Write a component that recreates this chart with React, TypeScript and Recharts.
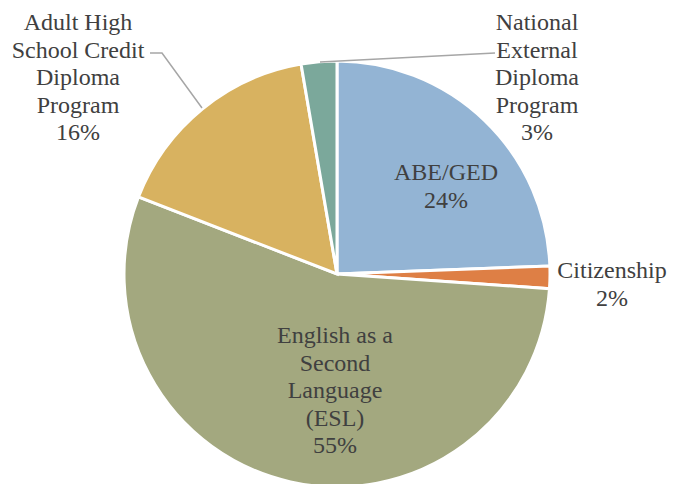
import React from 'react';
import { PieChart, Pie, Cell } from 'recharts';

const categories = [
  'ABE/GED',
  'Citizenship',
  'English as a Second Language (ESL)',
  'Adult High School Credit Diploma Program',
  'National External Diploma Program',
];
const shares = [24.4, 1.7, 54.8, 16.4, 2.7];
const labelTexts = [
  ['ABE/GED'],
  ['Citizenship'],
  ['English as a', 'Second', 'Language', '(ESL)'],
  ['Adult High', 'School Credit', 'Diploma', 'Program'],
  ['National', 'External', 'Diploma', 'Program'],
];
const colors = ['#93B4D4', '#DE7F45', '#A3A87F', '#D8B260', '#7BA89B'];

const CX = 337;
const CY = 274;
const R = 213;

// label layout: offset of label block (first line centre) from pie centre
const labelPos = [
  { dx: 109, dy: -102 },
  { dx: 275, dy: -4 },
  { dx: -2, dy: 61 },
  { dx: -259, dy: -252 },
  { dx: 200, dy: -252 },
];
// leader lines, offsets from pie centre
const leaders: Record<number, number[][]> = {
  3: [[-135, -166], [-175, -221], [-187, -221]],
  4: [[-17, -212], [158, -221]],
};

const total = shares.reduce((a, b) => a + b, 0);
const data = categories.map((name, i) => ({ name, value: shares[i] }));

const LINE_H = 27.6;
const FONT = 'Times New Roman';

function Labels() {
  return (
    <svg
      width={683}
      height={484}
      style={{ position: 'absolute', left: 0, top: 0, pointerEvents: 'none' }}
    >
      {categories.map((name, index) => {
        const pos = labelPos[index];
        const lines = [...labelTexts[index], `${Math.round((shares[index] / total) * 100)}%`];
        const x = CX + pos.dx;
        const y0 = CY + pos.dy;
        const leader = leaders[index];
        return (
          <g key={name}>
            {leader && (
              <polyline
                points={leader.map(([a, b]) => `${CX + a},${CY + b}`).join(' ')}
                fill="none"
                stroke="#A6A6A6"
                strokeWidth={1.5}
              />
            )}
            {lines.map((l, i) => (
              <text
                key={i}
                x={x}
                y={y0 + i * LINE_H + 8}
                textAnchor="middle"
                fill="#404040"
                fontFamily={FONT}
                fontSize={24}
              >
                {l}
              </text>
            ))}
          </g>
        );
      })}
    </svg>
  );
}

export default function App() {
  return (
    <div style={{ position: 'absolute', left: 0, top: 0, width: 683, height: 484, background: '#fff' }}>
      <PieChart width={683} height={484} margin={{ top: 0, right: 0, bottom: 0, left: 0 }}>
        <Pie
          data={data}
          dataKey="value"
          nameKey="name"
          cx={CX}
          cy={CY}
          outerRadius={R}
          startAngle={90}
          endAngle={-270}
          stroke="#FFFFFF"
          strokeWidth={3}
          label={false}
          labelLine={false}
          isAnimationActive={false}
        >
          {data.map((d, i) => (
            <Cell key={d.name} fill={colors[i]} />
          ))}
        </Pie>
      </PieChart>
      <Labels />
    </div>
  );
}
